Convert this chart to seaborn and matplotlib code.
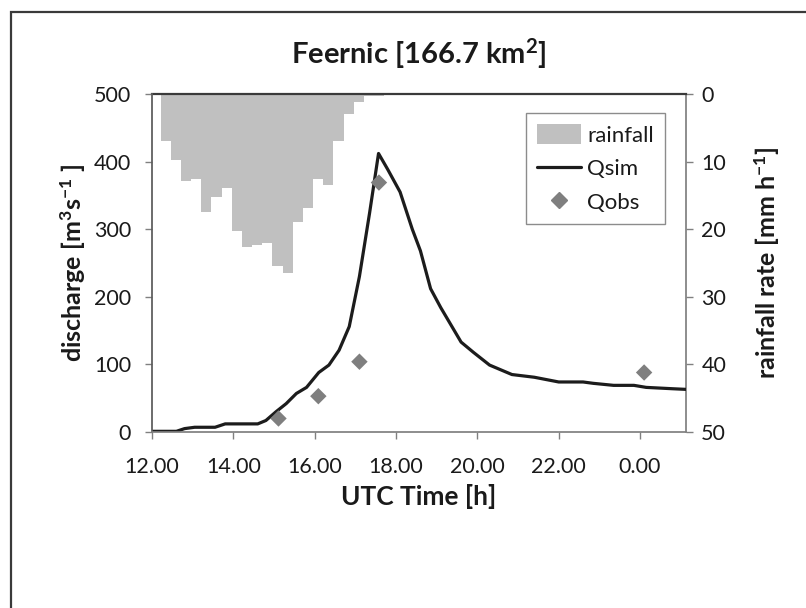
import matplotlib
matplotlib.use("Agg")
import matplotlib.pyplot as plt
from matplotlib.patches import Rectangle, Patch
from matplotlib.lines import Line2D
import seaborn as sns
import pandas as pd

# 15-minute rainfall intervals: start time [h] and rate [mm/h]
rain_start = [12.21, 12.46, 12.71, 12.96, 13.21, 13.46, 13.71, 13.96, 14.21, 14.46, 14.71,
              14.96, 15.21, 15.46, 15.71, 15.96, 16.21, 16.46, 16.71, 16.96, 17.21, 17.46]
rain_rate = [7.0, 9.8, 12.8, 12.5, 17.5, 15.2, 13.9, 20.2, 22.6, 22.4, 22.0,
             25.4, 26.5, 19.0, 16.8, 12.5, 13.4, 7.0, 3.0, 1.2, 0.3, 0.3]
rain_step = 0.25

# simulated discharge [m3/s]
qsim_time = [12.0, 12.6, 12.8, 13.05, 13.55, 13.8, 14.6, 14.8, 15.05, 15.3, 15.55, 15.8,
             16.1, 16.35, 16.6, 16.85, 17.1, 17.35, 17.57, 17.8, 18.1, 18.4, 18.6, 18.85,
             19.1, 19.6, 19.9, 20.3, 20.85, 21.4, 22.0, 22.6, 22.85, 23.35, 23.85, 24.15,
             24.8, 25.15]
qsim_val = [1, 1, 5, 7, 7, 12, 12, 17, 30, 42, 57, 66,
            88, 99, 121, 156, 230, 324, 412, 388, 355, 300, 268, 212,
            184, 133, 118, 99, 85, 81, 74, 74, 72, 69, 69, 66,
            64, 63]

# observed discharge [m3/s]
qobs_time = [15.11, 16.09, 17.1, 17.58, 24.1]
qobs_val = [20, 53, 104, 369, 88]

# time axis ticks (hours, wrapping past midnight)
xtick_pos = [12, 14, 16, 18, 20, 22, 24]
xtick_lab = ["12.00", "14.00", "16.00", "18.00", "20.00", "22.00", "0.00"]

sns.set_theme(style="white")
plt.rcParams["font.family"] = ["Lato", "DejaVu Sans"]
plt.rcParams["mathtext.fontset"] = "custom"
plt.rcParams["mathtext.rm"] = "Lato"
plt.rcParams["mathtext.bf"] = "Lato:bold"
plt.rcParams["mathtext.it"] = "Lato:italic"

TXT = "#1a1a1a"
AX_GRAY = "#808080"

fig = plt.figure(figsize=(8.06, 6.08), dpi=100)
ax = fig.add_axes([152 / 806, 1 - 432 / 608, 534 / 806, 338 / 608])
ax2 = ax.twinx()

# rainfall hanging from the top on a reversed secondary axis
rain_df = pd.DataFrame({"mid": [s + rain_step / 2 for s in rain_start], "rate": rain_rate})
rain_bins = rain_start + [rain_start[-1] + rain_step]
sns.histplot(data=rain_df, x="mid", weights="rate", bins=rain_bins, ax=ax2,
             color="#c0c0c0", alpha=1, edgecolor="none", linewidth=0)
ax2.set_ylim(50, 0)

sim_df = pd.DataFrame({"t": qsim_time, "q": qsim_val})
obs_df = pd.DataFrame({"t": qobs_time, "q": qobs_val})
sns.lineplot(data=sim_df, x="t", y="q", ax=ax, color="#1c1c1c", linewidth=2.3)
sns.scatterplot(data=obs_df, x="t", y="q", ax=ax, marker="D", s=70,
                color="#7f7f7f", edgecolor="none", linewidth=0, zorder=5)

ax.set_zorder(ax2.get_zorder() + 1)
ax.patch.set_visible(False)

ax.set_xlim(12, 25.13)
ax.set_ylim(0, 500)
ax.set_xticks(xtick_pos)
ax.set_xticklabels(xtick_lab)
ax.set_yticks([0, 100, 200, 300, 400, 500])
ax2.set_yticks([0, 10, 20, 30, 40, 50])

for a in (ax, ax2):
    a.tick_params(axis="both", which="major", direction="out", length=5, width=1,
                  color=AX_GRAY, labelsize=15.5, labelcolor=TXT, pad=6)
    for sp in a.spines.values():
        sp.set_visible(False)
ax.tick_params(axis="x", pad=13)
ax.tick_params(axis="y", pad=10)

ax.spines["left"].set_visible(True)
ax.spines["left"].set_color("#5a5a5a")
ax.spines["bottom"].set_visible(True)
ax.spines["bottom"].set_color(AX_GRAY)
ax2.spines["right"].set_visible(True)
ax2.spines["right"].set_color(AX_GRAY)
ax2.spines["top"].set_visible(True)
ax2.spines["top"].set_color("#3a3a3a")
ax2.spines["top"].set_linewidth(1.6)
ax.tick_params(axis="x", bottom=True)
ax.tick_params(axis="y", left=True)
ax2.tick_params(axis="y", right=True)

ax.set_xlabel("UTC Time [h]", fontsize=19, fontweight="bold", color=TXT, labelpad=5)
ax.set_ylabel(r"discharge [m$^{\mathbf{3}}$s$^{\mathbf{-1}}$ ]", fontsize=18,
              fontweight="bold", color=TXT, labelpad=4)
ax2.set_ylabel(r"rainfall rate [mm h$^{\mathbf{-1}}$]", fontsize=18,
               fontweight="bold", color=TXT, labelpad=19)
ax.set_title(r"Feernic [166.7 km$^{\mathbf{2}}$]", fontsize=21, fontweight="bold",
             color=TXT, pad=22)

handles = [Patch(facecolor="#c0c0c0", edgecolor="none"),
           Line2D([], [], color="#1c1c1c", linewidth=2.3),
           Line2D([], [], color="#7f7f7f", marker="D", linestyle="none", markersize=8)]
leg = ax.legend(handles, ["rainfall", "Qsim", "Qobs"], loc="upper right",
                bbox_to_anchor=(0.9607, 0.9438), borderaxespad=0, fontsize=16,
                frameon=True, fancybox=False, edgecolor="#8c8c8c", framealpha=1,
                handlelength=1.95, handleheight=1.0, handletextpad=0.3,
                labelspacing=0.55, borderpad=0.5)
leg.get_frame().set_linewidth(1.0)
for t in leg.get_texts():
    t.set_color(TXT)

# outer chart frame (open on the right and bottom edges)
fig.patches.append(Rectangle((11 / 806, -0.05), 1.2, 1 - 12 / 608 + 0.05,
                             transform=fig.transFigure, fill=False,
                             edgecolor="#3a3a3a", linewidth=1.6))

fig.savefig("out.png", dpi=100)
